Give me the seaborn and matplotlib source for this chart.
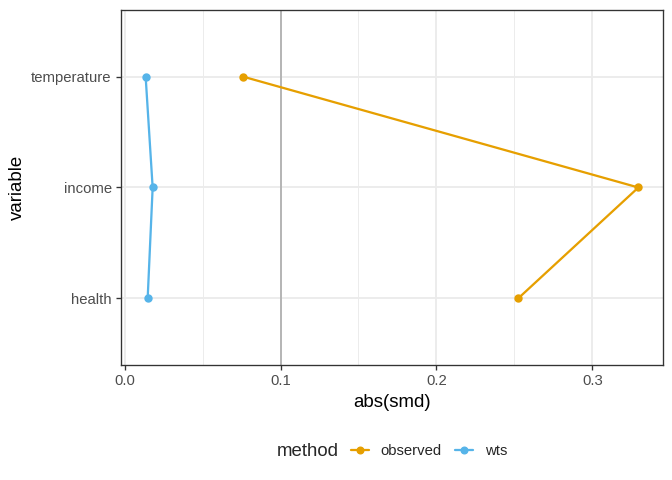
import pandas as pd
import matplotlib
matplotlib.use("Agg")
import matplotlib.pyplot as plt
from matplotlib.lines import Line2D
from matplotlib.ticker import MultipleLocator
import seaborn as sns

variables = ["temperature", "income", "health"]
observed_smd = [0.0758, 0.3295, 0.2524]
wts_smd = [0.0135, 0.0180, 0.0148]
methods = ["observed", "wts"]
colors = {"observed": "#E69F00", "wts": "#56B4E9"}

df = pd.DataFrame({
    "variable": variables * 2,
    "abs_smd": observed_smd + wts_smd,
    "method": ["observed"] * 3 + ["wts"] * 3,
})

sns.set_style("white")
plt.rcParams["font.family"] = ["Liberation Sans", "DejaVu Sans"]

fig = plt.figure(figsize=(7, 5), dpi=96)
ax = fig.add_axes([121 / 672, 1 - 365 / 480, (663 - 121) / 672, (365 - 10) / 480])

ax.axvline(0.1, color="#B3B3B3", lw=1.4, zorder=1)
sns.pointplot(data=df, x="abs_smd", y="variable", hue="method", order=variables,
              hue_order=methods, palette=colors, errorbar=None, markers="o",
              markersize=5, linewidth=1.7, legend=False, ax=ax, zorder=3)

xmin, xmax = min(observed_smd + wts_smd), max(observed_smd + wts_smd)
pad = (xmax - xmin) * 0.05
ax.set_xlim(xmin - pad, xmax + pad)
ax.set_ylim(2.6, -0.6)
ax.xaxis.set_minor_locator(MultipleLocator(0.05))
ax.set_xticks([0, 0.1, 0.2, 0.3], ["0.0", "0.1", "0.2", "0.3"])

ax.grid(True, which="major", color="#EBEBEB", lw=1.4, zorder=0)
ax.grid(True, which="minor", axis="x", color="#EBEBEB", lw=0.7, zorder=0)
ax.set_axisbelow(True)
for s in ax.spines.values():
    s.set_color("#333333")
    s.set_linewidth(1.0)
ax.tick_params(axis="both", which="major", length=4, width=1.0, color="#333333",
               labelsize=11.2, labelcolor="#4D4D4D", pad=3, bottom=True, left=True)
ax.tick_params(axis="both", which="minor", length=0)
ax.set_xlabel("abs(smd)", fontsize=14, color="black", labelpad=4)
ax.set_ylabel("variable", fontsize=14, color="black", labelpad=4)

handles = [Line2D([0], [0], color=colors[m], marker="o", markersize=5, lw=1.7) for m in methods]
fig.text(277 / 672, 1 - 451 / 480, "method", fontsize=14, va="center", ha="left")
fig.legend(handles, methods, loc="center left", bbox_to_anchor=(351 / 672, 1 - 451 / 480),
           ncol=2, frameon=False, fontsize=11.2, handlelength=1.2, handletextpad=0.8,
           columnspacing=0.87, borderaxespad=0, borderpad=0)

fig.savefig("out.png", dpi=96)
